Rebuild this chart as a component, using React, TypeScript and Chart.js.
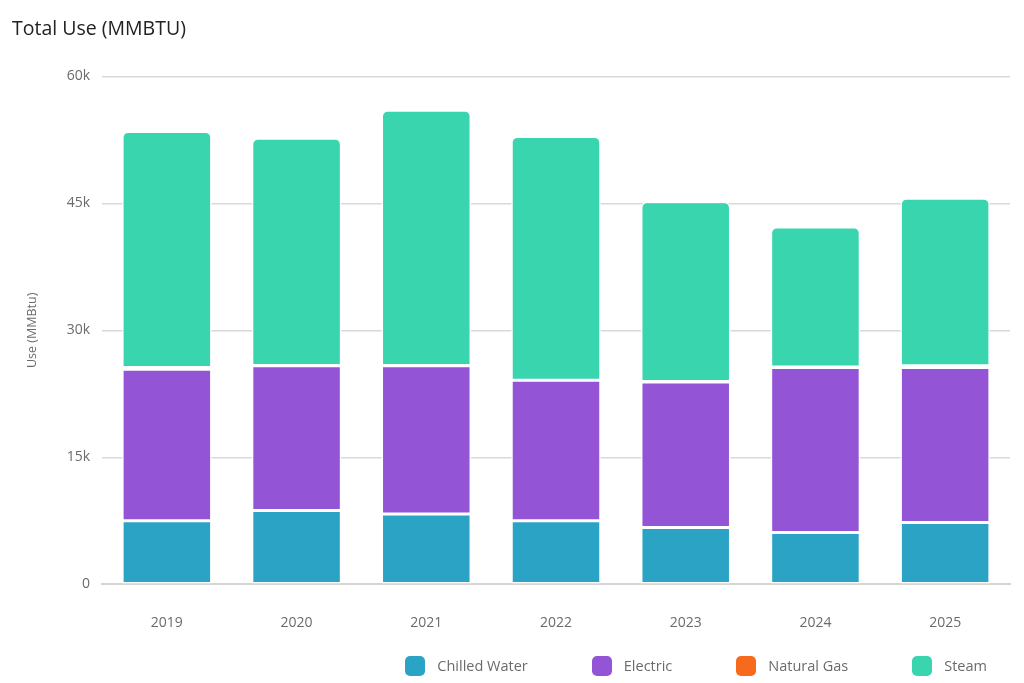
import React, { useEffect, useRef } from "react";
import { Chart, registerables } from "chart.js";

Chart.register(...registerables);

// Annual energy use by source, in MMBtu
const years = ["2019", "2020", "2021", "2022", "2023", "2024", "2025"];
const chilledWater = [7500, 8700, 8300, 7500, 6700, 6100, 7300];
const electric = [17900, 17100, 17500, 16600, 17200, 19500, 18300];
const naturalGas = [200, 50, 50, 0, 50, 50, 200];
const steam = [27900, 26850, 30150, 28800, 21250, 16550, 19800];

const yTicks = [0, 15000, 30000, 45000, 60000];

const seriesLabels = ["Chilled Water", "Electric", "Natural Gas", "Steam"];
const seriesColors = ["#2BA3C5", "#9355D6", "#F86A1B", "#39D5AF"];

const FONT = "'Open Sans', 'Noto Sans', sans-serif";

export default function App() {
  const canvasRef = useRef<HTMLCanvasElement | null>(null);

  useEffect(() => {
    if (!canvasRef.current) return;
    const common = {
      borderColor: "#ffffff",
      borderWidth: 1.5,
      borderSkipped: false as const,
      categoryPercentage: 1,
      barPercentage: 0.69,
    };
    const values = [chilledWater, electric, naturalGas, steam];
    const chart = new Chart(canvasRef.current, {
      type: "bar",
      data: {
        labels: years,
        datasets: values.map((data, i) => ({
          label: seriesLabels[i],
          data,
          backgroundColor: seriesColors[i],
          ...common,
          // only the top of each stack gets rounded corners
          ...(i === values.length - 1
            ? { borderRadius: { topLeft: 6, topRight: 6, bottomLeft: 0, bottomRight: 0 } }
            : {}),
        })),
      },
      options: {
        animation: false,
        responsive: true,
        maintainAspectRatio: false,
        layout: { padding: { left: 12, right: 14, top: 0, bottom: 22 } },
        font: { family: FONT },
        plugins: {
          title: {
            display: true,
            text: "Total Use (MMBTU)",
            align: "start",
            color: "#222222",
            font: { family: FONT, size: 19.5, weight: "normal" },
            padding: { top: 18, bottom: 35 },
          },
          legend: { display: false },
          tooltip: { enabled: false },
        },
        scales: {
          x: {
            stacked: true,
            grid: { display: false, drawTicks: false },
            border: { display: true, color: "#d4d4d4", width: 2 },
            ticks: {
              color: "#6b6b6b",
              font: { family: FONT, size: 14 },
              padding: 30,
            },
          },
          y: {
            stacked: true,
            min: 0,
            max: 60000,
            afterFit: (scale: any) => {
              scale.width = 90;
            },
            afterBuildTicks: (scale: any) => {
              scale.ticks = yTicks.map((v) => ({ value: v }));
            },
            grid: { color: "#d9d9d9", lineWidth: 1.5, drawTicks: false },
            border: { display: false },
            ticks: {
              color: "#6b6b6b",
              font: { family: FONT, size: 14 },
              padding: 12,
              callback: (v: any) => (Number(v) === 0 ? "0" : `${Number(v) / 1000}k`),
            },
            title: {
              display: true,
              text: "Use (MMBtu)",
              color: "#6b6b6b",
              font: { family: FONT, size: 12.5 },
              padding: { top: 13, bottom: 0 },
            },
          },
        },
      },
    });
    return () => chart.destroy();
  }, []);

  return (
    <div
      style={{
        position: "fixed",
        left: 0,
        top: 0,
        width: 1024,
        height: 683,
        background: "#ffffff",
        fontFamily: FONT,
      }}
    >
      <canvas ref={canvasRef} />
      <div
        style={{
          position: "absolute",
          right: 37,
          top: 656,
          height: 20,
          display: "flex",
          alignItems: "center",
          gap: 64,
        }}
      >
        {seriesLabels.map((label, i) => (
          <div key={label} style={{ display: "flex", alignItems: "center", gap: 12 }}>
            <span
              style={{
                width: 20,
                height: 20,
                borderRadius: 5,
                background: seriesColors[i],
                display: "inline-block",
              }}
            />
            <span style={{ fontSize: 14.5, color: "#6b6b6b", lineHeight: "20px" }}>{label}</span>
          </div>
        ))}
      </div>
    </div>
  );
}
